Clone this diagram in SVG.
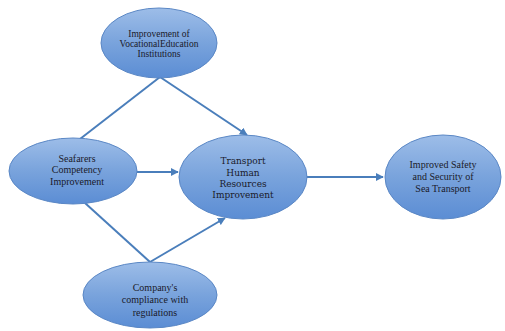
<svg xmlns="http://www.w3.org/2000/svg" width="505" height="331" viewBox="0 0 505 331">
<defs>
<linearGradient id="g" x1="0" y1="0" x2="0" y2="1">
<stop offset="0" stop-color="#9dbde8"/>
<stop offset="0.5" stop-color="#79a3dc"/>
<stop offset="1" stop-color="#5b8dd4"/>
</linearGradient>
<marker id="ah" viewBox="0 0 10 10" refX="9" refY="5" markerWidth="4" markerHeight="4" orient="auto">
<path d="M0,0 L10,5 L0,10 z" fill="#4a7ebb"/>
</marker>
</defs>
<style>
.n ellipse{fill:url(#g);stroke:#5a87c5;stroke-width:1}
.n text{font-family:"Liberation Serif",serif;font-size:10px;fill:#1a1a2a;text-anchor:middle}
.n text.s{font-size:9.5px}
.n text.c{font-family:"DejaVu Serif",serif;font-size:9px}
.e line{stroke:#4a7ebb;stroke-width:2;fill:none}
.e line.a{marker-end:url(#ah)}
</style>
<rect width="505" height="331" fill="#ffffff"/>
<g class="e">
<line x1="160" y1="77" x2="80" y2="139"/>
<line class="a" x1="160" y1="77" x2="247" y2="135"/>
<line class="a" x1="137" y1="172" x2="178" y2="172"/>
<line class="a" x1="307" y1="177" x2="383" y2="177"/>
<line x1="85" y1="203" x2="150" y2="262"/>
<line class="a" x1="150" y1="262" x2="225" y2="218"/>
</g>
<g class="n" id="vocational">
<ellipse cx="159" cy="43" rx="58" ry="35"/>
<text class="s" x="159" y="37">Improvement of</text>
<text class="s" x="159" y="47">VocationalEducation</text>
<text class="s" x="159" y="57">Institutions</text>
</g>
<g class="n" id="seafarers">
<ellipse cx="73" cy="171" rx="64" ry="33"/>
<text x="77" y="162">Seafarers</text>
<text x="77" y="173">Competency</text>
<text x="77" y="185">Improvement</text>
</g>
<g class="n" id="transport">
<ellipse cx="243" cy="177" rx="64" ry="42"/>
<text class="c" x="243" y="164">Transport</text>
<text class="c" x="243" y="176">Human</text>
<text class="c" x="243" y="187">Resources</text>
<text class="c" x="243" y="198">Improvement</text>
</g>
<g class="n" id="safety">
<ellipse cx="443" cy="177" rx="58" ry="42"/>
<text x="443" y="168">Improved Safety</text>
<text x="443" y="180">and Security of</text>
<text x="443" y="192">Sea Transport</text>
</g>
<g class="n" id="company">
<ellipse cx="150" cy="295" rx="67" ry="33"/>
<text x="155" y="291">Company's</text>
<text x="155" y="303">compliance with</text>
<text x="155" y="316">regulations</text>
</g>
</svg>
